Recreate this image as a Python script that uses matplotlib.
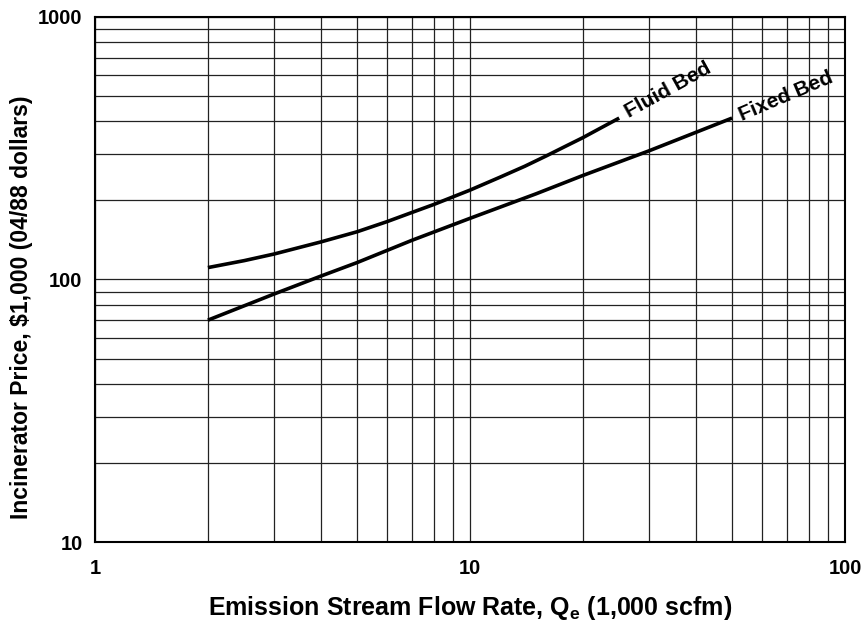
import numpy as np
import matplotlib.pyplot as plt
from matplotlib.ticker import FixedLocator, NullFormatter, FixedFormatter

plt.rcParams['font.family'] = ['Liberation Sans', 'DejaVu Sans']
plt.rcParams['mathtext.fontset'] = 'custom'
plt.rcParams['mathtext.rm'] = 'Liberation Sans:bold'
plt.rcParams['mathtext.bf'] = 'Liberation Sans:bold'

# Curves (flow in 1,000 scfm, price in $1,000)
fluid_q = [2, 2.5, 3, 4, 5, 6, 7, 8, 10, 12, 14, 16, 18, 20, 22.5, 25]
fluid_price = [111, 118, 125, 139, 152, 166, 180, 193, 219, 245, 270, 296, 322, 347, 380, 412]

fixed_q = [2, 3, 4, 5, 7, 10, 15, 20, 30, 50]
fixed_price = [70, 88, 103, 116, 141, 171, 212, 249, 309, 412]

x_ticks = [1, 10, 100]
y_ticks = [10, 100, 1000]


def main():
    fig = plt.figure(figsize=(8.66, 6.29), dpi=100)
    ax = fig.add_axes([0.1097, 0.1383, 0.8660, 0.8347])

    ax.set_xscale('log')
    ax.set_yscale('log')
    ax.set_xlim(1, 100)
    ax.set_ylim(10, 1000)

    ax.plot(fluid_q, fluid_price, color='black', lw=2.6, solid_capstyle='butt',
            solid_joinstyle='round', zorder=3)
    ax.plot(fixed_q, fixed_price, color='black', lw=2.6, solid_capstyle='butt',
            solid_joinstyle='round', zorder=3)

    # labels running on from the ends of the curves
    ax.text(26.6, 414, 'Fluid Bed', rotation=29, rotation_mode='anchor',
            ha='left', va='baseline', fontsize=15, fontweight='bold')
    ax.text(53.2, 402, 'Fixed Bed', rotation=23, rotation_mode='anchor',
            ha='left', va='baseline', fontsize=15, fontweight='bold')

    # every minor decade line as grid
    ax.xaxis.set_major_locator(FixedLocator(x_ticks))
    ax.yaxis.set_major_locator(FixedLocator(y_ticks))
    ax.xaxis.set_major_formatter(FixedFormatter([str(v) for v in x_ticks]))
    ax.yaxis.set_major_formatter(FixedFormatter([str(v) for v in y_ticks]))
    ax.xaxis.set_minor_locator(FixedLocator([m * 10 ** d for d in range(2) for m in range(2, 10)]))
    ax.yaxis.set_minor_locator(FixedLocator([m * 10 ** d for d in range(1, 3) for m in range(2, 10)]))
    ax.xaxis.set_minor_formatter(NullFormatter())
    ax.yaxis.set_minor_formatter(NullFormatter())
    ax.grid(which='both', color='#222222', lw=0.9)
    ax.tick_params(which='both', length=0, labelsize=14.5)
    ax.tick_params(axis='x', pad=12)
    ax.tick_params(axis='y', pad=9)
    for lab in ax.get_xticklabels() + ax.get_yticklabels():
        lab.set_fontweight('bold')

    for s in ax.spines.values():
        s.set_linewidth(1.5)

    ax.set_xlabel(r'Emission Stream Flow Rate, Q$_\mathbf{e}$ (1,000 scfm)',
                  fontsize=18, fontweight='bold', labelpad=12)
    ax.set_ylabel('Incinerator Price, $1,000 (04/88 dollars)',
                  fontsize=16.5, fontweight='bold')
    ax.yaxis.set_label_coords(-0.083, 0.448)

    fig.savefig('out.png', dpi=100)


if __name__ == '__main__':
    main()
